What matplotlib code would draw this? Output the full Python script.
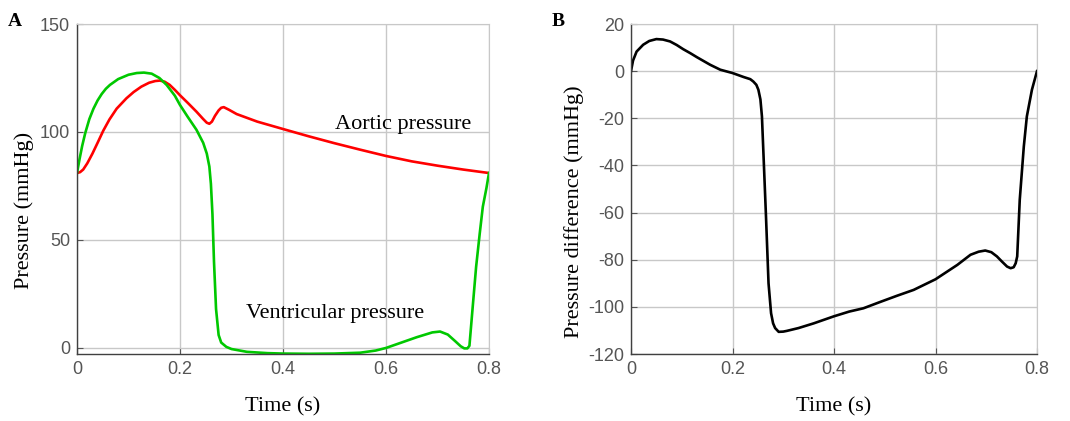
import matplotlib.pyplot as plt

# Panel A: aortic pressure (red)
t_aortic = [0.0, 0.006, 0.012, 0.02, 0.03, 0.04, 0.051, 0.063, 0.077, 0.096, 0.11, 0.125,
            0.14, 0.152, 0.161, 0.17, 0.18, 0.19, 0.2, 0.215, 0.232, 0.245, 0.252, 0.257,
            0.262, 0.268, 0.275, 0.28, 0.285, 0.295, 0.31, 0.35, 0.407, 0.45, 0.5, 0.55,
            0.6, 0.65, 0.7, 0.75, 0.8]
p_aortic = [81.0, 81.4, 82.6, 85.5, 90.0, 95.0, 100.6, 105.8, 110.8, 115.6, 118.5, 121.0,
            122.8, 123.6, 123.8, 123.3, 121.8, 119.5, 117.0, 113.5, 109.4, 106.0, 104.3, 103.8,
            104.8, 107.5, 110.0, 111.2, 111.5, 110.3, 108.3, 104.8, 100.9, 98.0, 94.8, 91.8,
            88.9, 86.4, 84.4, 82.6, 81.0]

# Panel A: ventricular pressure (green)
t_vent = [0.0, 0.005, 0.01, 0.016, 0.024, 0.032, 0.04, 0.048, 0.056, 0.064, 0.08, 0.1,
          0.116, 0.13, 0.145, 0.16, 0.174, 0.19, 0.2, 0.215, 0.232, 0.245, 0.252, 0.257,
          0.26, 0.263, 0.266, 0.27, 0.275, 0.28, 0.29, 0.3, 0.33, 0.37, 0.4, 0.45, 0.5,
          0.55, 0.58, 0.6, 0.63, 0.66, 0.69, 0.705, 0.72, 0.735, 0.745, 0.752, 0.758,
          0.762, 0.768, 0.775, 0.782, 0.788, 0.795, 0.8]
p_vent = [81.0, 87.5, 93.5, 99.5, 106.0, 110.8, 114.6, 117.6, 120.0, 121.8, 124.5, 126.5,
          127.3, 127.5, 127.0, 125.0, 121.8, 116.8, 112.5, 107.0, 101.0, 95.0, 90.0, 84.0,
          76.0, 62.0, 40.0, 18.0, 6.0, 2.5, 0.5, -0.5, -1.8, -2.4, -2.6, -2.7, -2.6,
          -2.2, -1.2, 0.0, 2.5, 5.0, 7.2, 7.6, 6.2, 3.0, 0.8, -0.2, -0.2,
          1.0, 18.0, 37.6, 53.0, 65.4, 74.0, 81.0]

# Panel B: pressure difference (black)
t_diff = [0.0, 0.004, 0.011, 0.024, 0.036, 0.05, 0.063, 0.077, 0.09, 0.103, 0.117, 0.13,
          0.143, 0.156, 0.176, 0.2, 0.222, 0.235, 0.241, 0.247, 0.251, 0.255, 0.258,
          0.262, 0.266, 0.271, 0.276, 0.28, 0.284, 0.291, 0.3, 0.307, 0.33, 0.36, 0.4,
          0.43, 0.458, 0.49, 0.524, 0.557, 0.6, 0.643, 0.669, 0.685, 0.698, 0.71,
          0.721, 0.731, 0.741, 0.748, 0.754, 0.758, 0.761, 0.766, 0.774, 0.78, 0.79, 0.8]
dp = [0.0, 4.5, 8.3, 11.2, 12.8, 13.6, 13.4, 12.6, 11.1, 9.3, 7.6, 5.9,
      4.3, 2.7, 0.6, -0.8, -2.5, -3.4, -4.4, -5.8, -7.9, -12.0, -19.2,
      -40.4, -61.7, -90.0, -102.7, -107.0, -109.0, -110.6, -110.5, -110.2, -109.0, -107.0, -104.0,
      -102.0, -100.6, -98.0, -95.3, -92.8, -88.3, -82.2, -77.9, -76.6, -76.1, -76.8,
      -78.6, -80.8, -82.9, -83.6, -83.2, -81.5, -78.6, -54.6, -32.0, -19.2, -7.9, 0.0]

x_ticks = [0, 0.2, 0.4, 0.6, 0.8]
x_labels = ["0", "0.2", "0.4", "0.6", "0.8"]

SERIF = "Liberation Serif"
SANS = "Liberation Sans"
TICK_COLOR = "#555555"


def style_axes(ax):
    ax.grid(True, color="#c8c8c8", linewidth=1.0)
    ax.set_axisbelow(True)
    for side in ("top", "right"):
        ax.spines[side].set_color("#c8c8c8")
    for side in ("left", "bottom"):
        ax.spines[side].set_color("#404040")
        ax.spines[side].set_linewidth(1.0)
    ax.tick_params(direction="in", length=4, width=0.8, colors=TICK_COLOR,
                   labelsize=13, pad=5, top=False, right=False)
    ax.set_xlim(0, 0.8)
    ax.set_xticks(x_ticks)
    ax.set_xticklabels(x_labels, fontfamily=SANS)
    ax.set_xlabel("Time (s)", fontfamily=SERIF, fontsize=16)
    ax.xaxis.set_label_coords(0.5, -0.13)


fig = plt.figure(figsize=(10.7, 4.21), dpi=100)

ax_a = fig.add_axes([77 / 1070, 67 / 421, 412 / 1070, 330 / 421])
ax_a.plot(t_aortic, p_aortic, color="#ff0000", linewidth=1.9)
ax_a.plot(t_vent, p_vent, color="#00c800", linewidth=1.9)
ax_a.set_ylim(-2.8, 150)
ax_a.set_yticks([0, 50, 100, 150])
ax_a.set_yticklabels(["0", "50", "100", "150"], fontfamily=SANS)
style_axes(ax_a)
ax_a.set_ylabel("Pressure (mmHg)", fontfamily=SERIF, fontsize=16)
ax_a.yaxis.set_label_coords(-0.104, 0.435)
ax_a.text(0.5, 101.2, "Aortic pressure", fontfamily=SERIF, fontsize=16, va="baseline")
ax_a.text(0.329, 14.0, "Ventricular pressure", fontfamily=SERIF, fontsize=16, va="baseline")

ax_b = fig.add_axes([631 / 1070, 67 / 421, 406 / 1070, 330 / 421])
ax_b.plot(t_diff, dp, color="#000000", linewidth=1.9)
ax_b.set_ylim(-120, 20)
ax_b.set_yticks(list(range(-120, 21, 20)))
ax_b.set_yticklabels([str(v) for v in range(-120, 21, 20)], fontfamily=SANS)
style_axes(ax_b)
ax_b.set_ylabel("Pressure difference (mmHg)", fontfamily=SERIF, fontsize=16)
ax_b.yaxis.set_label_coords(-0.115, 0.43)

fig.text(8 / 1070, 1 - 26 / 421, "A", fontfamily=SERIF, fontsize=14, fontweight="bold")
fig.text(552 / 1070, 1 - 26 / 421, "B", fontfamily=SERIF, fontsize=14, fontweight="bold")

fig.savefig("out.png", dpi=100)
